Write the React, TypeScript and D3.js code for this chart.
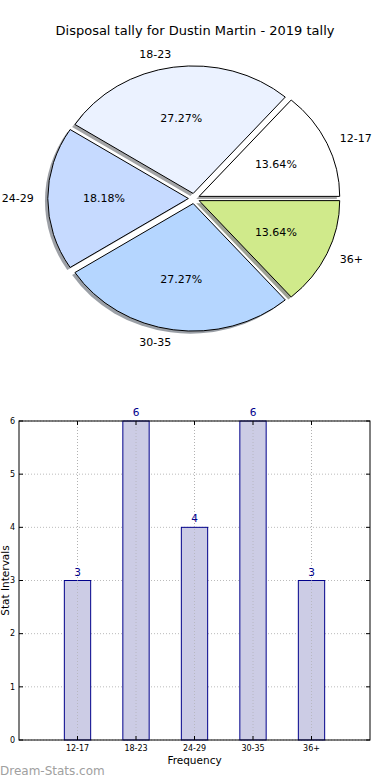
import React from 'react';
import * as d3 from 'd3';

const categories = ['12-17', '18-23', '24-29', '30-35', '36+'];
const tally = [3, 6, 4, 6, 3];
const sliceColors = ['#ffffff', '#ebf2ff', '#c6daff', '#b5d6ff', '#d0ea8b'];
const yTicks = [0, 1, 2, 3, 4, 5, 6];

const W = 390;
const H = 780;
const FONT = 'DejaVu Sans, sans-serif';

function PieChart() {
    const cx = 194;
    const cy = 198.5;
    const rx = 140.6;
    const ry = 127.5;
    const explode = 0.04;

    // matplotlib-style: start at 3 o'clock, counter-clockwise
    const pie = d3.pie<number>().sort(null).startAngle(Math.PI / 2).endAngle(Math.PI / 2 - 2 * Math.PI);
    const arcs = pie(tally);
    const arc = d3.arc<d3.PieArcDatum<number>>().innerRadius(0).outerRadius(1);
    const total = d3.sum(tally);

    return (
        <g>
            <text x={195} y={35} textAnchor="middle" fontSize={13} fontFamily={FONT} fill="#000">
                Disposal tally for Dustin Martin - 2019 tally
            </text>
            {arcs.map((a, i) => {
                const mid = (a.startAngle + a.endAngle) / 2;
                const ox = cx + explode * Math.sin(mid) * rx;
                const oy = cy - explode * Math.cos(mid) * ry;
                const c = d3.rgb(sliceColors[i]);
                const shadow = d3.rgb(c.r * 0.3, c.g * 0.3, c.b * 0.3).toString();
                return (
                    <g key={'s' + i} transform={`translate(${ox - 0.02 * rx},${oy + 0.02 * ry}) scale(${rx},${ry})`}>
                        <path d={arc(a) || ''} fill={shadow} fillOpacity={0.5} />
                    </g>
                );
            })}
            {arcs.map((a, i) => {
                const mid = (a.startAngle + a.endAngle) / 2;
                const ox = cx + explode * Math.sin(mid) * rx;
                const oy = cy - explode * Math.cos(mid) * ry;
                return (
                    <g key={'p' + i} transform={`translate(${ox},${oy}) scale(${rx},${ry})`}>
                        <path d={arc(a) || ''} fill={sliceColors[i]} stroke="#000" strokeWidth={1}
                            vectorEffect="non-scaling-stroke" />
                    </g>
                );
            })}
            {arcs.map((a, i) => {
                const mid = (a.startAngle + a.endAngle) / 2;
                const ux = Math.sin(mid);
                const uy = -Math.cos(mid);
                const ox = cx + explode * ux * rx;
                const oy = cy + explode * uy * ry;
                const lx = ox + 1.1 * ux * rx;
                const ly = oy + 1.1 * uy * ry;
                const px = ox + 0.6 * ux * rx;
                const py = oy + 0.6 * uy * ry;
                return (
                    <g key={'l' + i} fontFamily={FONT} fontSize={11} fill="#000">
                        <text x={lx} y={ly} dy="0.35em" textAnchor={ux > 0 ? 'start' : 'end'}>
                            {categories[i]}
                        </text>
                        <text x={px} y={py} dy="0.35em" textAnchor="middle">
                            {((tally[i] / total) * 100).toFixed(2)}%
                        </text>
                    </g>
                );
            })}
        </g>
    );
}

function BarChart() {
    const left = 19;
    const right = 370;
    const top = 421;
    const bottom = 740;
    const x = d3.scaleLinear().domain([-1, 5]).range([left, right]);
    const y = d3.scaleLinear().domain([0, 6]).range([bottom, top]);
    const bw = x(0.45) - x(0);

    return (
        <g fontFamily={FONT}>
            {/* grid */}
            {categories.map((c, i) => (
                <line key={'gx' + i} x1={x(i)} x2={x(i)} y1={top} y2={bottom} stroke="#bbb" strokeDasharray="1,2" />
            ))}
            {yTicks.map(t => (
                <line key={'gy' + t} x1={left} x2={right} y1={y(t)} y2={y(t)} stroke="#bbb" strokeDasharray="1,2" />
            ))}
            {/* bars */}
            {tally.map((v, i) => (
                <rect key={'b' + i} x={x(i) - bw / 2} y={y(v)} width={bw} height={y(0) - y(v)}
                    fill="#ccccE5" stroke="#00008b" strokeWidth={1} />
            ))}
            {categories.map((c, i) => (
                <line key={'gx2' + i} x1={x(i)} x2={x(i)} y1={top} y2={bottom} stroke="#aaa" strokeDasharray="1,2" strokeOpacity={0.6} />
            ))}
            {tally.map((v, i) => (
                <text key={'v' + i} x={x(i)} y={y(v) - 5} textAnchor="middle" fontSize={10.5} fill="#00008b">{v}</text>
            ))}
            {/* frame */}
            <rect x={left} y={top} width={right - left} height={bottom - top} fill="none" stroke="#000" strokeWidth={1} />
            {/* ticks */}
            {yTicks.map(t => (
                <g key={'ty' + t}>
                    <line x1={left} x2={left + 4} y1={y(t)} y2={y(t)} stroke="#000" />
                    <line x1={right - 4} x2={right} y1={y(t)} y2={y(t)} stroke="#000" />
                    <text x={left - 4} y={y(t)} dy="0.35em" textAnchor="end" fontSize={8} fill="#000">{t}</text>
                </g>
            ))}
            {categories.map((c, i) => (
                <g key={'tx' + i}>
                    <line x1={x(i)} x2={x(i)} y1={bottom} y2={bottom - 4} stroke="#000" />
                    <line x1={x(i)} x2={x(i)} y1={top} y2={top + 4} stroke="#000" />
                    <text x={x(i)} y={bottom + 11} textAnchor="middle" fontSize={8} fill="#000">{c}</text>
                </g>
            ))}
            <text x={x(2)} y={764} textAnchor="middle" fontSize={10.5} fill="#000">Frequency</text>
            <text transform={`translate(9,${(top + bottom) / 2}) rotate(-90)`} textAnchor="middle" fontSize={10.5} fill="#000">
                Stat Intervals
            </text>
        </g>
    );
}

export default function App() {
    return (
        <svg width={W} height={H} style={{ position: 'absolute', left: 0, top: 0, background: '#fff' }}>
            <rect width={W} height={H} fill="#fff" />
            <PieChart />
            <BarChart />
            <text x={0} y={775} fontSize={12} fontFamily={FONT} fill="#a0a0a0">Dream-Stats.com</text>
        </svg>
    );
}
